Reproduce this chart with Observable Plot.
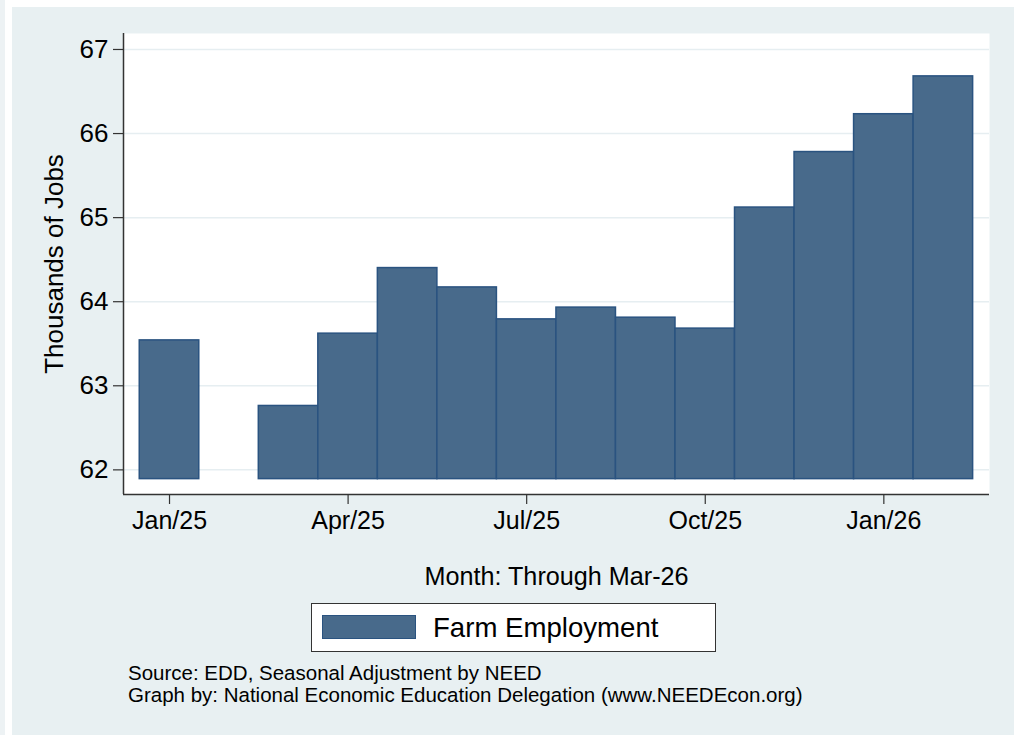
<!DOCTYPE html>
<html>
<head>
<meta charset="utf-8">
<script src="https://cdn.jsdelivr.net/npm/d3@7"></script>
<script src="https://cdn.jsdelivr.net/npm/@observablehq/plot@0.6"></script>
<style>
  html, body { margin: 0; padding: 0; background: #ffffff; width: 1020px; height: 735px; overflow: hidden; }
  body { position: relative; font-family: "Liberation Sans", Arial, Helvetica, sans-serif; color: #000; }
  #strip { position: absolute; left: 0; top: 0; width: 5px; height: 735px; background: #edf2f4; }
  #panel { position: absolute; left: 12px; top: 7px; width: 1002px; height: 728px; background: #e8f0f2; }
  #chart { position: absolute; left: 0; top: 0; }
  #legend { position: absolute; left: 299px; top: 596px; width: 403px; height: 47px; background: #fff; border: 1.5px solid #333; box-sizing: content-box; }
  #swatch { position: absolute; left: 10px; top: 11px; width: 92px; height: 22px; border: 1px solid #2a5380; }
  #legtext { position: absolute; left: 121px; top: 10px; font-size: 27.6px; line-height: 27px; white-space: nowrap; }
  #source { position: absolute; left: 116px; top: 655px; font-size: 20.5px; line-height: 21.7px; white-space: nowrap; }
</style>
</head>
<body>
<div id="strip"></div>
<div id="panel">
  <div id="chart"></div>
  <div id="legend"><div id="swatch"></div><span id="legtext"></span></div>
  <div id="source"></div>
</div>
<script>
// ---- data ----
const monthLabels = ["Jan/25","Feb/25","Mar/25","Apr/25","May/25","Jun/25","Jul/25","Aug/25","Sep/25","Oct/25","Nov/25","Dec/25","Jan/26","Feb/26"];
const farmEmployment = [63.54, null, 62.76, 63.62, 64.40, 64.17, 63.79, 63.93, 63.81, 63.68, 65.12, 65.78, 66.23, 66.68];
const barBase = 61.89;
const xTickIndex = [0, 3, 6, 9, 12];
const yTicks = [62, 63, 64, 65, 66, 67];
const xDomain = [-0.773, 13.775];
const yDomain = [61.707, 67.19];
const seriesName = "Farm Employment";
const xTitle = "Month: Through Mar-26";
const yTitle = "Thousands of Jobs";
const sourceLines = ["Source: EDD, Seasonal Adjustment by NEED", "Graph by: National Economic Education Delegation (www.NEEDEcon.org)"];

const barFill = "#486a8b";
const barStroke = "#2a5380";
const font = '"Liberation Sans", Arial, Helvetica, sans-serif';

const rows = monthLabels.map((m, i) => ({i, month: m, value: farmEmployment[i]})).filter(d => d.value != null);

const chart = Plot.plot({
  width: 1002,
  height: 588,
  marginLeft: 111,
  marginRight: 25,
  marginTop: 26,
  marginBottom: 101,
  style: {background: "transparent", fontFamily: font, color: "#000", overflow: "visible"},
  x: {type: "linear", domain: xDomain},
  y: {domain: yDomain},
  marks: [
    Plot.frame({fill: "#ffffff", stroke: "none"}),
    Plot.gridY(yTicks, {stroke: "#e6eef1", strokeOpacity: 1, strokeWidth: 1.5}),
    Plot.rectY(rows, {x1: d => d.i - 0.5, x2: d => d.i + 0.5, y1: barBase, y2: "value", fill: barFill, stroke: barStroke, strokeWidth: 1.5}),
    Plot.ruleX([xDomain[0]], {stroke: "#333", strokeWidth: 1.5}),
    Plot.ruleY([yDomain[0]], {stroke: "#333", strokeWidth: 1.5}),
    Plot.axisY({ticks: yTicks, tickFormat: d => String(d), tickSize: 10, tickPadding: 5, fontSize: 26, label: null, stroke: "#333", strokeWidth: 1.2, fill: "#000"}),
    Plot.axisX({ticks: xTickIndex, tickFormat: i => monthLabels[i], tickSize: 10, tickPadding: 7, fontSize: 25, label: null, stroke: "#333", strokeWidth: 1.2, fill: "#000"}),
    Plot.text([xTitle], {text: d => d, frameAnchor: "bottom", dy: 82, fontSize: 25.2, lineAnchor: "middle", textAnchor: "middle", fill: "#000"}),
    Plot.text([yTitle], {text: d => d, frameAnchor: "left", dx: -69, rotate: -90, fontSize: 26, lineAnchor: "middle", textAnchor: "middle", fill: "#000"})
  ]
});
document.getElementById("chart").appendChild(chart);

document.getElementById("swatch").style.background = barFill;
document.getElementById("legtext").textContent = seriesName;
document.getElementById("source").innerHTML = sourceLines.map(s => `<div>${s}</div>`).join("");
</script>
</body>
</html>
